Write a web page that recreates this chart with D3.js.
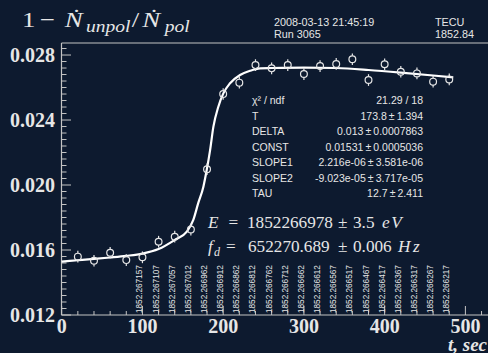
<!DOCTYPE html>
<html><head><meta charset="utf-8">
<script src="https://cdn.jsdelivr.net/npm/d3@7"></script>
<style>
html,body{margin:0;padding:0;background:#0d1a2f;}
svg{display:block;}
</style></head>
<body>
<svg id="c" width="488" height="353"></svg>
<script>
// ---- data ----
const times = [20,40,60,80,100,120,140,160,180,200,220,240,260,280,300,320,340,360,380,400,420,440,460,480];
const ratio = [0.01559,0.01534,0.01583,0.01538,0.01555,0.01651,0.01682,0.01726,0.02097,0.02560,0.02630,0.02738,0.02718,0.02738,0.02683,0.02732,0.02745,0.02774,0.02646,0.02743,0.02697,0.02687,0.02636,0.02650];
const errs  = [0.00036,0.00036,0.00036,0.00036,0.00036,0.00036,0.00036,0.00036,0.00036,0.00036,0.00036,0.00036,0.00036,0.00036,0.00036,0.00036,0.00036,0.00036,0.00036,0.00036,0.00036,0.00036,0.00036,0.00036];
const fitT = [0,20,40,60,80,100,120,140,155,163,169,175.5,179.6,183.8,187.9,194,200.2,208.5,220.9,233.3,245.7,260,300,340,380,420,460,485];
const fitV = [0.01529,0.01537,0.01545,0.01554,0.01564,0.01578,0.01606,0.01662,0.01713,0.01785,0.01887,0.0199,0.02092,0.02215,0.02359,0.02482,0.02564,0.02626,0.02677,0.02703,0.02718,0.0272,0.02723,0.0272,0.02708,0.02692,0.02674,0.02662];
const energyTimes = [100,120,140,160,180,200,220,240,260,280,300,320,340,360,380,400,420,440,460,480];
const energyLabels = ["1852.267157","1852.267107","1852.267057","1852.267012","1852.266962","1852.266912","1852.266862","1852.266812","1852.266762","1852.266712","1852.266662","1852.266612","1852.266567","1852.266517","1852.266467","1852.266417","1852.266367","1852.266317","1852.266267","1852.266217"];
const xTicks = [0,100,200,300,400,500];
const yTicks = [0.012,0.016,0.020,0.024,0.028];
const statNames = ["\u03C7\u00B2 / ndf","T","DELTA","CONST","SLOPE1","SLOPE2","TAU"];
const statValues = ["21.29 / 18","173.8\u2009\u00B1\u20091.394","0.013\u2009\u00B1\u20090.0007863","0.01531\u2009\u00B1\u20090.0005036","2.216e-06\u2009\u00B1\u20093.581e-06","-9.023e-05\u2009\u00B1\u20093.717e-05","12.7\u2009\u00B1\u20092.411"];

// ---- layout ----
const svg = d3.select("#c");
const fg = "#e6e6e6", axc = "#c4c4c4";
const serif = "Liberation Serif, Times New Roman, serif";
const sans = "Liberation Sans, Arial, sans-serif";
const x = d3.scaleLinear().domain([0,528]).range([61.7,488]);
const y = d3.scaleLinear().domain([0.012,0.02874]).range([315,43]);

// axes frame
svg.append("line").attr("x1",61.5).attr("x2",488).attr("y1",43).attr("y2",43).attr("stroke",axc).attr("stroke-width",1.2);
svg.append("line").attr("x1",61.5).attr("x2",488).attr("y1",315).attr("y2",315).attr("stroke",axc).attr("stroke-width",1.2);
svg.append("line").attr("x1",61.5).attr("x2",61.5).attr("y1",43).attr("y2",315).attr("stroke",axc).attr("stroke-width",1.2);

// x ticks
const xMinor = d3.range(0,528,20);
svg.append("g").selectAll("line").data(xMinor).join("line")
  .attr("x1",d=>x(d)).attr("x2",d=>x(d)).attr("y1",315)
  .attr("y2",d=>d%100===0?306:311).attr("stroke",axc).attr("stroke-width",1);
svg.append("g").selectAll("text").data(xTicks).join("text")
  .attr("x",d=>x(d)).attr("y",333).attr("text-anchor","middle")
  .attr("font-family",serif).attr("font-weight","bold")
  .attr("font-size",20).attr("fill",fg).text(d=>d);
svg.append("text").attr("x",487).attr("y",350.5).attr("text-anchor","end")
  .attr("font-family",serif).attr("font-weight","bold").attr("font-style","italic")
  .attr("font-size",19).attr("fill",fg).text("t, sec");

// y ticks
const yMinor = d3.range(0,43).map(i=>0.012+i*0.0004).filter(v=>v<=0.02874);
svg.append("g").selectAll("line").data(yMinor).join("line")
  .attr("y1",d=>y(d)).attr("y2",d=>y(d)).attr("x1",61.5)
  .attr("x2",(d,i)=>i%10===0?71:66.5).attr("stroke",axc).attr("stroke-width",1);
svg.append("g").selectAll("text").data(yTicks).join("text")
  .attr("x",55).attr("y",d=>y(d)+7).attr("text-anchor","end")
  .attr("font-family",serif).attr("font-weight","bold")
  .attr("font-size",20).attr("fill",fg).text(d=>d3.format(".3f")(d));

// energy labels (rotated)
svg.append("g").selectAll("text").data(energyTimes).join("text")
  .attr("transform",(d)=>`translate(${x(d)},313) rotate(-90)`)
  .attr("font-family",sans).attr("font-size",8.2)
  .attr("fill",fg).text((d,i)=>energyLabels[i]);

// fit curve
const line = d3.line().x((d,i)=>x(fitT[i])).y(d=>y(d)).curve(d3.curveMonotoneX);
svg.append("path").attr("d",line(fitV)).attr("fill","none").attr("stroke","#ffffff").attr("stroke-width",2.2);

// data points with error bars
const pts = svg.append("g");
times.forEach((t,i)=>{
  const cx = x(t), cy = y(ratio[i]);
  const y1 = y(ratio[i]+errs[i]), y2 = y(ratio[i]-errs[i]);
  pts.append("line").attr("x1",cx).attr("x2",cx).attr("y1",y1).attr("y2",cy-3.4).attr("stroke",fg).attr("stroke-width",1.2);
  pts.append("line").attr("x1",cx).attr("x2",cx).attr("y1",cy+3.4).attr("y2",y2).attr("stroke",fg).attr("stroke-width",1.2);
  pts.append("circle").attr("cx",cx).attr("cy",cy).attr("r",3.4).attr("fill","none").attr("stroke",fg).attr("stroke-width",1.2);
});

// title (math-style; glyphs widened like Computer Modern)
const title = svg.append("text").attr("transform","translate(22,27) scale(1.22,1)")
  .attr("font-family",serif).attr("font-size",22).attr("fill",fg);
title.append("tspan").attr("x",0).text("1");
title.append("tspan").attr("x",14.5).text("\u2212");
title.append("tspan").attr("x",35).attr("font-style","italic").text("\u1E44");
title.append("tspan").attr("x",52.5).attr("font-style","italic").attr("font-size",16).attr("dy",5).text("unpol");
title.append("tspan").attr("x",90).attr("dy",-5).text("/");
title.append("tspan").attr("x",98.5).attr("font-style","italic").text("\u1E44");
title.append("tspan").attr("x",117).attr("font-style","italic").attr("font-size",16).attr("dy",5).text("pol");

// header
[["2008-03-13 21:45:19",274,25.5],["Run 3065",274,38.3],["TECU",435,25.5],["1852.84",435,38.3]].forEach(a=>{
  svg.append("text").attr("x",a[1]).attr("y",a[2]).attr("font-family",sans).attr("font-size",10.8).attr("fill",fg).text(a[0]);
});

// stats
statNames.forEach((n,i)=>{
  const by = 104 + i*15.5;
  svg.append("text").attr("x",252).attr("y",by).attr("font-family",sans).attr("font-size",10.5).attr("fill",fg).text(n);
  svg.append("text").attr("x",423).attr("y",by).attr("text-anchor","end").attr("font-family",sans).attr("font-size",10.5).attr("fill",fg).text(statValues[i]);
});

// E and f_d
const e1 = svg.append("text").attr("y",228).attr("font-family",serif).attr("font-size",17.2).attr("fill",fg);
e1.append("tspan").attr("x",208).attr("font-style","italic").text("E");
e1.append("tspan").attr("x",228.5).text("=");
e1.append("tspan").attr("x",247).text("1852266978");
e1.append("tspan").attr("x",338).text("\u00B1");
e1.append("tspan").attr("x",353).text("3.5");
e1.append("tspan").attr("x",382).attr("font-style","italic").attr("letter-spacing",1.5).text("eV");
const e2 = svg.append("text").attr("y",252).attr("font-family",serif).attr("font-size",17.2).attr("fill",fg);
e2.append("tspan").attr("x",208).attr("font-style","italic").text("f");
e2.append("tspan").attr("x",214).attr("font-style","italic").attr("font-size",12).attr("dy",4).text("d");
e2.append("tspan").attr("x",226).attr("dy",-4).text("=");
e2.append("tspan").attr("x",248).text("652270.689");
e2.append("tspan").attr("x",338).text("\u00B1");
e2.append("tspan").attr("x",353).text("0.006");
e2.append("tspan").attr("x",398).attr("font-style","italic").attr("letter-spacing",2.5).text("Hz");
</script>
</body></html>
